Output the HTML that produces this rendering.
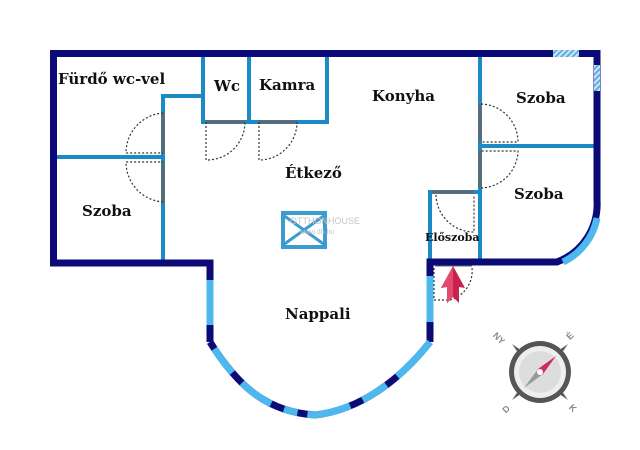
<!DOCTYPE html>
<html><head><meta charset="utf-8"><style>
html,body{margin:0;padding:0;background:#fff;}
svg{display:block}
text{font-family:"DejaVu Serif","Liberation Serif",serif;font-weight:bold;fill:#111;}
</style></head><body>
<svg width="640" height="450" viewBox="0 0 640 450" xmlns="http://www.w3.org/2000/svg">
<defs>
<pattern id="h" width="4" height="4" patternUnits="userSpaceOnUse" patternTransform="rotate(45)">
<rect width="4" height="4" fill="#cfe6f5"/><rect width="2" height="4" fill="#5aaee0"/></pattern>
</defs>
<g stroke="#1b8ac7" stroke-width="4" fill="none">
<path d="M163,262 V96 H203"/>
<path d="M203,57 V122 H327 V57"/>
<path d="M249,57 V122"/>
<path d="M57,157 H163"/>
<path d="M480,57 V262"/>
<path d="M480,146 H594"/>
<path d="M430,262 V192 H480"/>
</g>
<g stroke="#666" stroke-width="3">
<line x1="163" y1="113" x2="163" y2="153"/>
<line x1="163" y1="161" x2="163" y2="203"/>
<line x1="206" y1="122" x2="245" y2="122"/>
<line x1="258" y1="122" x2="297" y2="122"/>
<line x1="480" y1="104" x2="480" y2="142"/>
<line x1="480" y1="150" x2="480" y2="188"/>
<line x1="432" y1="192" x2="474" y2="192"/>
<line x1="435" y1="265" x2="472" y2="265"/>
</g>
<g stroke="#333" stroke-width="1.2" fill="none" stroke-dasharray="2,2">
<path d="M163,113 A40,40 0 0 0 126,153 H163"/>
<path d="M163,202 A40,40 0 0 1 126,162 H163"/>
<path d="M206,122 V160 A38,38 0 0 0 245,122"/>
<path d="M259,122 V160 A38,38 0 0 0 297,122"/>
<path d="M481,104 A38,38 0 0 1 518,142 H481"/>
<path d="M481,188 A38,38 0 0 0 518,151 H481"/>
<path d="M436,195 A38,38 0 0 0 474,232 V195"/>
<path d="M434,268 V300 H450 A30,30 0 0 0 472,268"/>
</g>
<g stroke="#0b0b78" stroke-width="7" fill="none" stroke-linejoin="miter">
<path d="M210,342 V263 H53.5 V53.5 H597 V200 A62,62 0 0 1 557,262 H430 V342"/>
</g>
<rect x="553" y="50" width="26" height="7" fill="url(#h)"/>
<rect x="594" y="65" width="6" height="26" fill="url(#h)"/>
<path d="M597,218 A62,62 0 0 1 563,262" stroke="#4db8ee" stroke-width="7" fill="none"/>
<g fill="none" stroke-width="7">
<path d="M210,342 C240,390 270,412 315,415 C360,410 400,380 430,342" stroke="#0b0b78"/>
<path d="M210,342 C240,390 270,412 315,415 C360,410 400,380 430,342" stroke="#4db8ee" stroke-dasharray="0,8,30,14,36,14,14,10,44,14,28,14,40"/>
<line x1="210" y1="280" x2="210" y2="325" stroke="#4db8ee"/>
<line x1="430" y1="276" x2="430" y2="322" stroke="#4db8ee"/>
</g>
<g opacity="0.85">
<rect x="283" y="213" width="42" height="34" fill="none" stroke="#1b8ac7" stroke-width="4"/>
<path d="M283,215 L325,245 M325,215 L283,245" stroke="#1b8ac7" stroke-width="3"/>
<text x="290" y="224" font-size="9" style="fill:#bbb;font-weight:normal;font-family:'Liberation Sans',sans-serif">OTTHONHOUSE</text>
<text x="300" y="234" style="fill:#bbb;font-weight:normal;font-family:'Liberation Sans',sans-serif" font-size="7">www.dh.hu</text>
</g>
<path d="M453,266 L465,288 L459,287 L459,303 L453,297 L447,303 L447,287 L441,288 Z" fill="#c8234f"/>
<path d="M453,266 L453,297 L447,303 L447,287 L441,288 Z" fill="#e24a72"/>
<g transform="translate(540,372)">
<path d="M-28,-28 L-8,-14 L-14,-8 Z M28,-28 L14,-8 L8,-14 Z M28,28 L8,14 L14,8 Z M-28,28 L-14,8 L-8,14 Z" fill="#555"/>
<circle r="31" fill="#555"/>
<circle r="26" fill="#eee"/>
<circle r="21" fill="#ddd"/>
<path d="M16,-16 L3,2 L-2,-3 Z" fill="#d02a5a"/>
<path d="M-16,16 L3,2 L-2,-3 Z" fill="#999"/>
<circle r="3" fill="#fff"/>
<g font-size="9">
<text x="-46" y="-32" transform="rotate(45,-42,-36)" style="fill:#888;font-family:'Liberation Sans',sans-serif">NY</text>
<text x="27" y="-33" transform="rotate(-45,30,-36)" style="fill:#888;font-family:'Liberation Sans',sans-serif">É</text>
<text x="-38" y="40" transform="rotate(-45,-34,36)" style="fill:#888;font-family:'Liberation Sans',sans-serif">D</text>
<text x="30" y="40" transform="rotate(45,34,36)" style="fill:#888;font-family:'Liberation Sans',sans-serif">K</text>
</g>
</g>
<g font-size="15">
<text x="58" y="84">Fürdő wc-vel</text>
<text x="214" y="91">Wc</text>
<text x="259" y="90">Kamra</text>
<text x="372" y="101">Konyha</text>
<text x="516" y="103">Szoba</text>
<text x="285" y="178">Étkező</text>
<text x="514" y="199">Szoba</text>
<text x="82" y="216">Szoba</text>
<text x="285" y="319">Nappali</text>
</g>
<text x="425" y="241" font-size="11">Előszoba</text>
</svg>
</body></html>
